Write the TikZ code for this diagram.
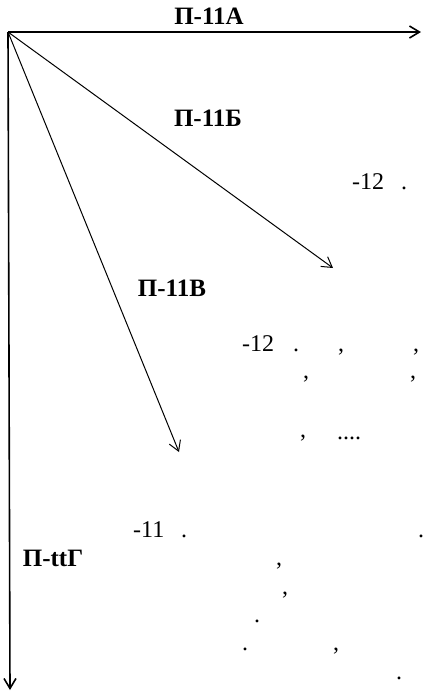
\documentclass[tikz,border=0pt]{standalone}
\usepackage{fontspec}
\setmainfont{Liberation Serif}
\usetikzlibrary{arrows.meta, positioning}
\tikzset{
    % Vectors drawn from the common origin
    vector/.style={
        -{Straight Barb[length=10pt, width=12pt]},
        line width=1.6pt,
    },
    % Thinner variant for the slanted vectors
    vector thin/.style={
        vector,
        line width=1pt,
    },
    % Label of each vector
    vec label/.style={
        font=\bfseries\fontsize{25}{27}\selectfont,
        inner sep=0pt,
    },
    % Left-over text of the scan
    note/.style={
        font=\fontsize{24}{26}\selectfont,
        inner sep=0pt,
        anchor=base west,
    },
}
\begin{document}
\begin{tikzpicture}[x=1pt, y=-1pt]
    \useasboundingbox (0,0) rectangle (426,697);

    \coordinate (o) at (8,32);
    \coordinate (endA) at (421,32);
    \coordinate (endB) at (333,268);
    \coordinate (endV) at (179,452);
    \coordinate (endG) at (10,690);

    \draw [vector] (o) -- (endA);
    \draw [vector thin] (o) -- (endB);
    \draw [vector thin] (o) -- (endV);
    \draw [vector] (o) -- (endG);

    \node (labA) [vec label] at (209,16) {П-11А};
    \node (labB) [vec label] at (208,118) {П-11Б};
    \node (labV) [vec label] at (172,288) {П-11В};
    \node (labG) [vec label] at (53,558) {П-ttГ};

    \node (n1) [note] at (352,189) {-12};
    \node (n1a) [note] at (401,189) {.};

    \node (n2) [note] at (242,351) {-12};
    \node (n2a) [note] at (293,351) {.};
    \node (n2b) [note] at (338,351) {,};
    \node (n2c) [note] at (413,351) {,};
    \node (n3a) [note] at (303,378) {,};
    \node (n3b) [note] at (410,378) {,};
    \node (n4a) [note] at (300,437) {,};
    \node (n4b) [note] at (337,439) {....};

    \node (n5) [note] at (133,537) {-11};
    \node (n5a) [note] at (181,537) {.};
    \node (n5b) [note] at (418,537) {.};
    \node (n6) [note] at (276,565) {,};
    \node (n7) [note] at (282,594) {,};
    \node (n8) [note] at (254,622) {.};
    \node (n9a) [note] at (242,650) {.};
    \node (n9b) [note] at (333,650) {,};
    \node (n10) [note] at (396,679) {.};
\end{tikzpicture}
\end{document}
